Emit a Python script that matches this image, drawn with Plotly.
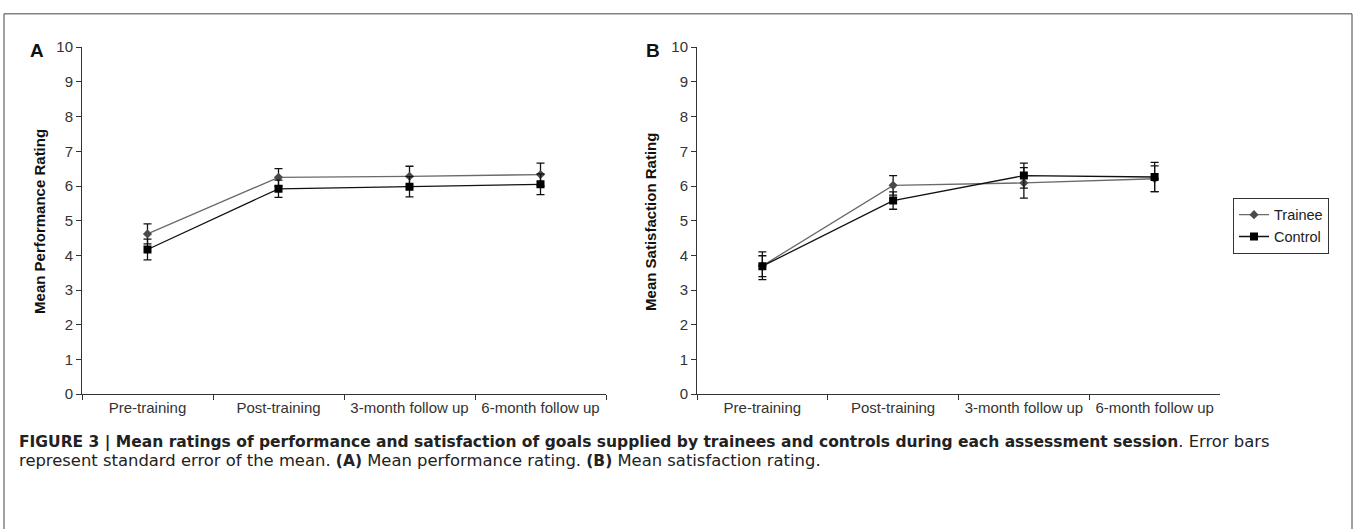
import plotly.graph_objects as go

categories = ["Pre-training", "Post-training", "3-month follow up", "6-month follow up"]

# Panel A: Mean Performance Rating
perf_trainee = [4.62, 6.25, 6.28, 6.33]
perf_trainee_err = [0.29, 0.25, 0.29, 0.33]
perf_control = [4.17, 5.92, 5.98, 6.05]
perf_control_err = [0.30, 0.25, 0.29, 0.30]

# Panel B: Mean Satisfaction Rating
sat_trainee = [3.70, 6.02, 6.09, 6.21]
sat_trainee_err = [0.40, 0.28, 0.44, 0.37]
sat_control = [3.69, 5.58, 6.30, 6.26]
sat_control_err = [0.30, 0.25, 0.36, 0.42]

series_names = ["Trainee", "Control"]
y_ticks = list(range(0, 11))

W, H = 1354, 529
FONT = "Liberation Sans, Arial, sans-serif"
CAP_FONT = "DejaVu Sans, Liberation Sans, sans-serif"

def px_x(v):
    return v / W

def px_y(v):
    return 1 - v / H

fig = go.Figure()

panels = [
    ("x", "y", perf_trainee, perf_trainee_err, perf_control, perf_control_err, False),
    ("x2", "y2", sat_trainee, sat_trainee_err, sat_control, sat_control_err, True),
]

for xa, ya, tr, tre, co, coe, show in panels:
    fig.add_trace(go.Scatter(
        x=categories, y=tr, name=series_names[0], xaxis=xa, yaxis=ya,
        mode="lines+markers", showlegend=show,
        line=dict(color="#6a6a6a", width=1.3),
        marker=dict(symbol="diamond", size=7, color="#4a4a4a"),
        error_y=dict(type="data", array=tre, visible=True, color="#111", thickness=1.3, width=4),
    ))
    fig.add_trace(go.Scatter(
        x=categories, y=co, name=series_names[1], xaxis=xa, yaxis=ya,
        mode="lines+markers", showlegend=show,
        line=dict(color="#111", width=1.3),
        marker=dict(symbol="square", size=8, color="#000"),
        error_y=dict(type="data", array=coe, visible=True, color="#111", thickness=1.3, width=4),
    ))

ydom = [px_y(398), px_y(39.5)]
xcommon = dict(type="category", categoryorder="array", categoryarray=categories,
               range=[-0.5, 3.5], tickson="boundaries", ticks="outside", ticklen=5,
               tickcolor="#333", showline=True, linecolor="#333", linewidth=1,
               showgrid=False, zeroline=False,
               tickfont=dict(family=FONT, size=15, color="#333"), fixedrange=True)
ycommon = dict(range=[0, 10], tickvals=y_ticks, ticks="outside", ticklen=5,
               tickcolor="#333", showline=True, linecolor="#333", linewidth=1,
               showgrid=False, zeroline=False,
               tickfont=dict(family=FONT, size=15, color="#333"), fixedrange=True)

fig.update_layout(
    width=W, height=H, autosize=False,
    margin=dict(l=0, r=0, t=0, b=0),
    paper_bgcolor="white", plot_bgcolor="white",
    font=dict(family=FONT, color="#222"),
    xaxis=dict(domain=[px_x(82), px_x(606)], anchor="y", **xcommon),
    yaxis=dict(domain=ydom, anchor="x", **ycommon),
    xaxis2=dict(domain=[px_x(697), px_x(1220)], anchor="y2", **xcommon),
    yaxis2=dict(domain=ydom, anchor="x2", **ycommon),
    legend=dict(x=px_x(1233), y=px_y(195), xanchor="left", yanchor="top",
                bordercolor="#333", borderwidth=1, bgcolor="white",
                font=dict(family=FONT, size=14.5, color="#222"),
                itemwidth=30, tracegroupgap=0),
    showlegend=True,
)

annotations = [
    dict(x=px_x(37), y=px_y(43), text="<b>A</b>", font=dict(size=19, color="#111")),
    dict(x=px_x(653), y=px_y(43), text="<b>B</b>", font=dict(size=19, color="#111")),
    dict(x=px_x(40), y=px_y(220), text="<b>Mean Performance Rating</b>", textangle=-90,
         font=dict(size=15, color="#111")),
    dict(x=px_x(651), y=px_y(220), text="<b>Mean Satisfaction Rating</b>", textangle=-90,
         font=dict(size=15, color="#111")),
]
for a in annotations:
    a.update(xref="paper", yref="paper", showarrow=False, xanchor="center", yanchor="middle")

BOLD = '<b><span style="font-size:15.5px">{}</span></b>'
caption1 = (BOLD.format("FIGURE 3 | Mean ratings of performance and satisfaction of goals supplied by "
                        "trainees and controls during each assessment session") + ". Error bars")
caption2 = ("represent standard error of the mean. " + BOLD.format("(A)") +
            " Mean performance rating. " + BOLD.format("(B)") + " Mean satisfaction rating.")
annotations.append(dict(x=px_x(17), y=px_y(447), text=caption1, xref="paper", yref="paper",
                        showarrow=False, xanchor="left", yanchor="middle", align="left",
                        font=dict(family=CAP_FONT, size=16.4, color="#222")))
annotations.append(dict(x=px_x(17), y=px_y(467), text=caption2, xref="paper", yref="paper",
                        showarrow=False, xanchor="left", yanchor="middle", align="left",
                        font=dict(family=CAP_FONT, size=16.4, color="#222")))
fig.update_layout(annotations=annotations)

# outer frame
fig.add_shape(type="rect", xref="paper", yref="paper", x0=px_x(4), x1=px_x(1352),
              y0=-0.05, y1=px_y(5), line=dict(color="#444", width=1))

fig.write_html("out.html", config={"displayModeBar": False},
               post_script="document.body.style.margin='0';document.body.style.overflow='hidden';")
